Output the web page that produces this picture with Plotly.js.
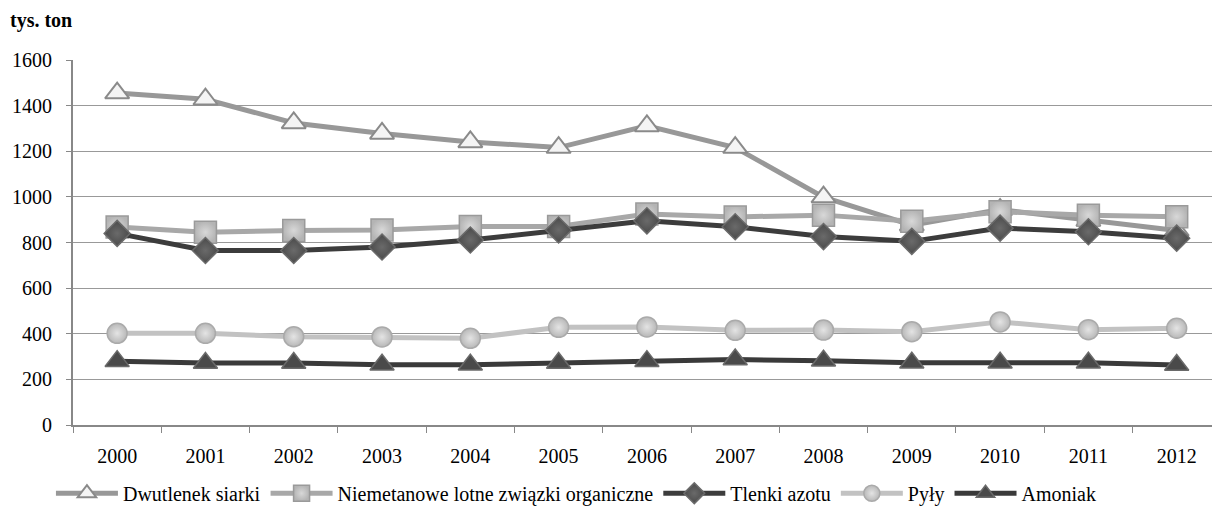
<!DOCTYPE html>
<html>
<head>
<meta charset="utf-8">
<script src="https://cdn.plot.ly/plotly-3.0.1.min.js"></script>
<style>html,body{margin:0;padding:0;background:#fff;}#chart{width:1212px;height:507px;}</style>
</head>
<body>
<div id="chart"></div>
<script>
const years = ['2000','2001','2002','2003','2004','2005','2006','2007','2008','2009','2010','2011','2012'];
const dwutlenekSiarki = [1455, 1428, 1324, 1278, 1241, 1216, 1311, 1216, 999, 876, 944, 896, 853];
const niemetanoweLZO = [868, 845, 853, 855, 870, 870, 925, 912, 920, 893, 935, 920, 913];
const tlenkiAzotu = [840, 765, 765, 780, 811, 855, 895, 869, 826, 805, 863, 847, 819];
const pyly = [402, 402, 387, 386, 380, 428, 430, 415, 416, 409, 452, 418, 424];
const amoniak = [280, 272, 272, 264, 264, 272, 280, 287, 282, 273, 273, 273, 263];
const names = ['Dwutlenek siarki', 'Niemetanowe lotne związki organiczne', 'Tlenki azotu', 'Pyły', 'Amoniak'];
const yTicks = [0, 200, 400, 600, 800, 1000, 1200, 1400, 1600];

const FAM = 'Liberation Serif';
const traces = [
  {y: dwutlenekSiarki, name: names[0], line: {color: '#989898', width: 5},
   marker: {symbol: 'triangle-up', size: 21, color: '#f4f4f4', line: {color: '#8a8a8a', width: 2}}},
  {y: niemetanoweLZO, name: names[1], line: {color: '#a8a8a8', width: 5},
   marker: {symbol: 'square', size: 22, color: '#b4b4b4', gradient: {type: 'radial', color: '#d8d8d8'}, line: {color: '#9a9a9a', width: 1.5}}},
  {y: tlenkiAzotu, name: names[2], line: {color: '#3c3c3c', width: 5},
   marker: {symbol: 'diamond', size: 20, color: '#4a4a4a', gradient: {type: 'radial', color: '#6a6a6a'}, line: {color: '#6a6a6a', width: 1.5}}},
  {y: pyly, name: names[3], line: {color: '#c2c2c2', width: 5},
   marker: {symbol: 'circle', size: 20, color: '#b8b8b8', gradient: {type: 'radial', color: '#e4e4e4'}, line: {color: '#aaaaaa', width: 1.5}}},
  {y: amoniak, name: names[4], line: {color: '#3a3a3a', width: 5},
   marker: {symbol: 'triangle-up', size: 21, color: '#4a4a4a', line: {color: '#6a6a6a', width: 1.5}}}
].map(t => Object.assign({type: 'scatter', mode: 'lines+markers', x: years}, t));

const layout = {
  width: 1212, height: 507,
  margin: {l: 73, r: 0, t: 60, b: 82, autoexpand: false},
  paper_bgcolor: '#fff', plot_bgcolor: '#fff',
  font: {family: FAM, size: 20, color: '#000'},
  showlegend: true,
  legend: {orientation: 'h', x: 0.442, xanchor: 'center', y: -0.187, yanchor: 'middle',
           font: {family: FAM, size: 20, color: '#000'}, itemwidth: 62, tracegroupgap: 0},
  annotations: [
    {text: '<b>tys. ton</b>', xref: 'paper', yref: 'paper', x: -0.057, y: 1.107,
     xanchor: 'left', yanchor: 'middle', showarrow: false, font: {family: FAM, size: 20, color: '#000'}}
  ],
  xaxis: {type: 'category', range: [-0.5, 12.4], tickson: 'boundaries', ticks: 'outside', ticklen: 6,
          tickcolor: '#888', showline: true, linecolor: '#888', linewidth: 2, showgrid: false,
          ticklabelstandoff: 12,
          tickfont: {family: FAM, size: 20, color: '#000'}, fixedrange: true},
  yaxis: {range: [0, 1600], tickvals: yTicks, ticktext: yTicks.map(String), ticks: 'outside', ticklen: 5,
          tickcolor: '#888', showline: true, linecolor: '#888', linewidth: 2, gridcolor: '#999', gridwidth: 1,
          ticklabelstandoff: 10,
          zeroline: false, tickfont: {family: FAM, size: 20, color: '#000'}, fixedrange: true}
};
Plotly.newPlot('chart', traces, layout, {staticPlot: true});
</script>
</body>
</html>
